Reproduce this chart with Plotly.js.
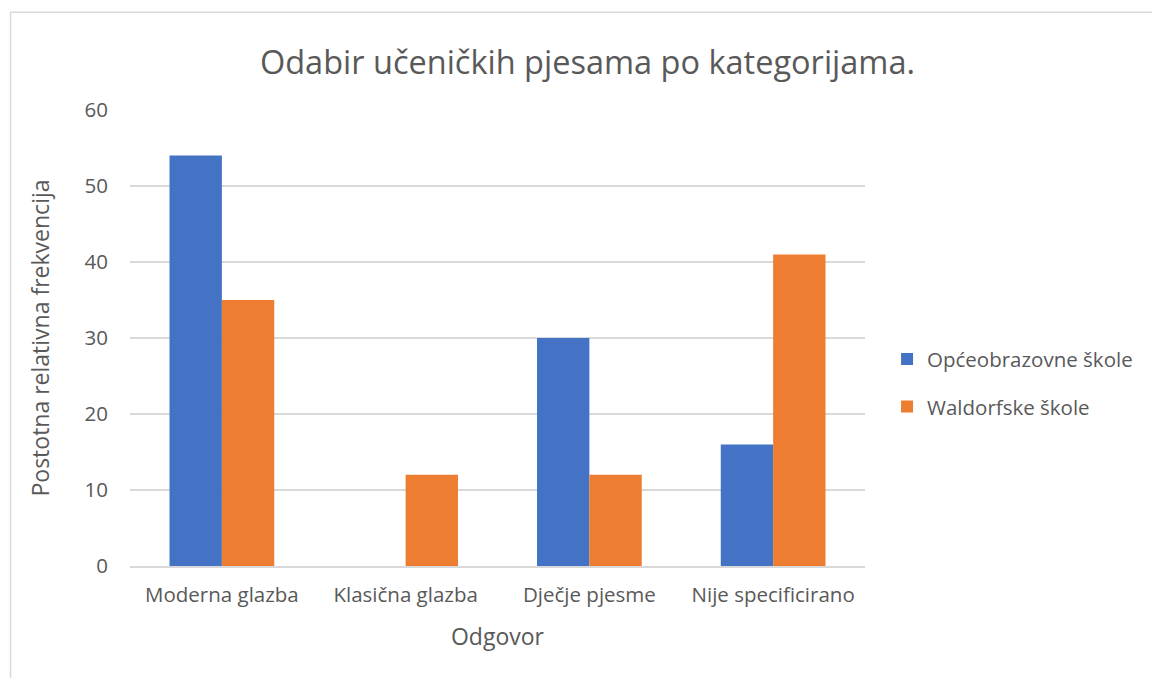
<!DOCTYPE html>
<html>
<head>
<meta charset="utf-8">
<script src="https://cdn.plot.ly/plotly-3.0.1.min.js"></script>
<style>html,body{margin:0;padding:0;background:#fff;}#chart{width:1152px;height:678px;}</style>
</head>
<body>
<div id="chart"></div>
<script>
const categories = ["Moderna glazba", "Klasična glazba", "Dječje pjesme", "Nije specificirano"];
const opceobrazovne = [54, 0, 30, 16];
const waldorfske = [35, 12, 12, 41];
const seriesNames = ["Općeobrazovne škole", "Waldorfske škole"];
const yTicks = [0, 10, 20, 30, 40, 50, 60];

const font = "'Open Sans', 'Noto Sans', sans-serif";
const textColor = "#595959";

const data = [
  {type: "bar", x: categories, y: opceobrazovne, name: seriesNames[0], legendgroup: "a", marker: {color: "#4472C4"}},
  {type: "bar", x: categories, y: waldorfske, name: seriesNames[1], legendgroup: "b", marker: {color: "#ED7D31"}}
];

const layout = {
  width: 1152, height: 678,
  margin: {l: 130, r: 287, t: 110, b: 112},
  paper_bgcolor: "#fff", plot_bgcolor: "#fff",
  font: {family: font, color: textColor, size: 20.5},
  title: {text: "Odabir učeničkih pjesama po kategorijama.", font: {size: 32.5, color: textColor, family: font}, x: 0.51, xanchor: "center", y: 0.908, yanchor: "middle", xref: "container", yref: "container"},
  barmode: "group", bargap: 0.43, bargroupgap: 0,
  xaxis: {
    title: {text: "Odgovor", font: {size: 23, color: textColor}, standoff: 22},
    tickfont: {size: 20.5, color: textColor},
    showline: true, linecolor: "#d9d9d9", linewidth: 1.5,
    ticks: "", showgrid: false, ticklabelstandoff: 10
  },
  yaxis: {
    title: {text: "Postotna relativna frekvencija", font: {size: 23, color: textColor}, standoff: 28},
    range: [0, 60], tickvals: yTicks, ticktext: yTicks.map(String),
    tickfont: {size: 20.5, color: textColor},
    showgrid: true, gridcolor: "#d9d9d9", gridwidth: 1.5,
    zeroline: false, showline: false, ticks: "", ticklen: 0,
    ticklabelstandoff: 21
  },
  legend: {x: 1.03, y: 0.401, xanchor: "left", yanchor: "middle", font: {size: 20.5, color: textColor}, traceorder: "grouped", tracegroupgap: 18, itemwidth: 30, bgcolor: "rgba(0,0,0,0)"},
  shapes: [{type: "rect", xref: "paper", yref: "paper", x0: -0.1625, x1: 1.41, y0: -0.3, y1: 1.2145, line: {color: "#d9d9d9", width: 1.5}, fillcolor: "rgba(0,0,0,0)", layer: "below"}],
  showlegend: true
};

Plotly.newPlot("chart", data, layout, {displayModeBar: false, staticPlot: true});
</script>
</body>
</html>
